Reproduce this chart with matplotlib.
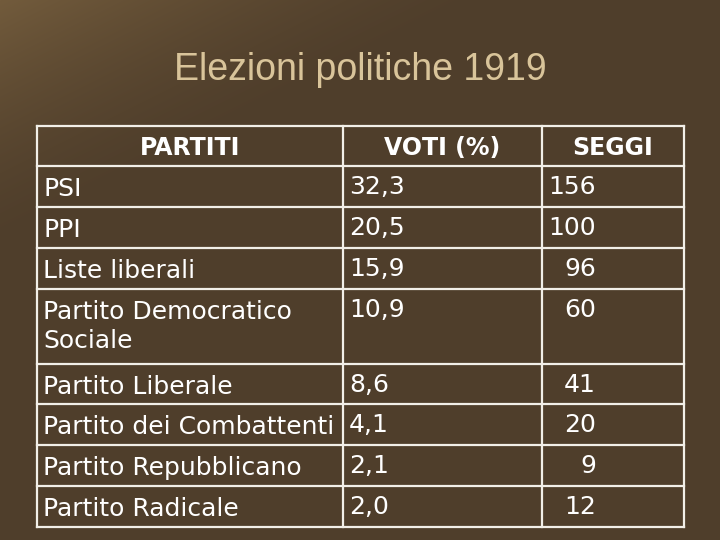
import matplotlib
matplotlib.use("Agg")
import matplotlib.pyplot as plt
import numpy as np
from matplotlib import font_manager

title = "Elezioni politiche 1919"
headers = ["PARTITI", "VOTI (%)", "SEGGI"]
partiti = ["PSI", "PPI", "Liste liberali", "Partito Democratico\nSociale",
           "Partito Liberale", "Partito dei Combattenti", "Partito Repubblicano",
           "Partito Radicale"]
voti = ["32,3", "20,5", "15,9", "10,9", "8,6", "4,1", "2,1", "2,0"]
seggi = ["156", "100", "96", "60", "41", "20", "9", "12"]

names = {f.name for f in font_manager.fontManager.ttflist}
narrow = "Liberation Sans Narrow" if "Liberation Sans Narrow" in names else "DejaVu Sans Condensed"
fam = [narrow, "DejaVu Sans"]

fig = plt.figure(figsize=(7.2, 5.4), dpi=100)
ax = fig.add_axes([0, 0, 1, 1])
ax.set_xlim(0, 720); ax.set_ylim(540, 0); ax.axis("off")

# background gradient
yy, xx = np.mgrid[0:540, 0:720]
t = np.clip(1 - (xx / 500 + yy / 250), 0, 1) ** 1.5
base = np.array([0x4f, 0x3e, 0x2b]) / 255
light = np.array([0x72, 0x5b, 0x3c]) / 255
img = base[None, None, :] * (1 - t[..., None]) + light[None, None, :] * t[..., None]
ax.imshow(img, extent=(0, 720, 540, 0), zorder=0, aspect="auto")

ax.text(360, 70, title, ha="center", va="center", color="#d9c49a",
        fontsize=27, family=["Liberation Sans", "DejaVu Sans"])

ybounds = [126, 166, 207, 248, 289, 364, 404, 445, 486, 527]
xbounds = [37, 343, 542, 684]
lc = "#f2efe8"
for y in ybounds:
    ax.plot([xbounds[0], xbounds[-1]], [y, y], color=lc, lw=1.6, zorder=2)
for x in xbounds:
    ax.plot([x, x], [ybounds[0], ybounds[-1]], color=lc, lw=1.6, zorder=2)

hx = [(xbounds[0] + xbounds[1]) / 2, (xbounds[1] + xbounds[2]) / 2, (xbounds[2] + xbounds[3]) / 2]
for x, h in zip(hx, headers):
    ax.text(x, 148, h, ha="center", va="center", color="white", fontsize=17,
            fontweight="bold", family=["DejaVu Sans"], zorder=3)

for i, (p, v, s) in enumerate(zip(partiti, voti, seggi)):
    top = ybounds[i + 1]
    y = top + 21
    ax.text(43, y - 10, p, ha="left", va="top", color="white", fontsize=18,
            family=fam, linespacing=1.25, zorder=3)
    ax.text(349, y, v, ha="left", va="center", color="white", fontsize=18, family=fam, zorder=3)
    ax.text(596, y, s, ha="right", va="center", color="white", fontsize=18, family=fam, zorder=3)

fig.savefig("out.png", dpi=100)
